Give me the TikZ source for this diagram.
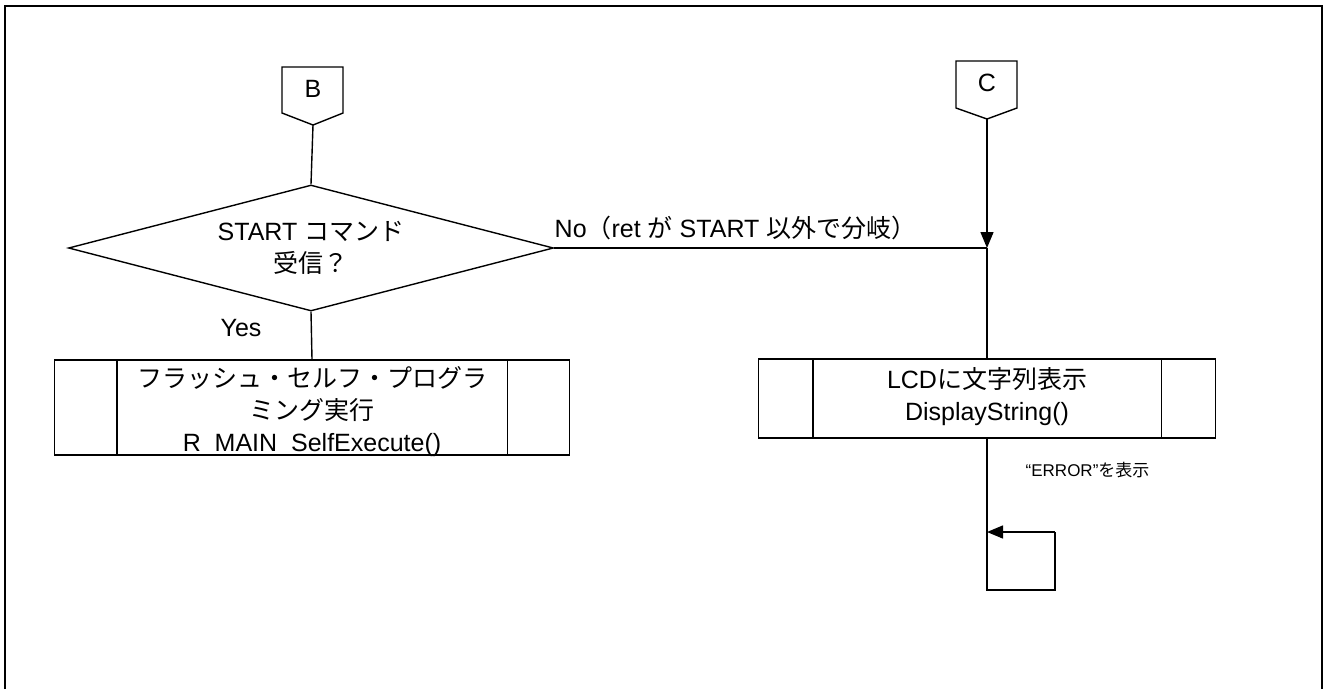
\documentclass[tikz,border=0pt]{standalone}
\usepackage{fontspec}
\setmainfont{Liberation Sans}
\newfontfamily\jp{Noto Sans CJK JP}
\newcommand{\J}[1]{{\jp #1}}
\usetikzlibrary{shapes.geometric,arrows.meta}
\begin{document}
\begin{tikzpicture}[x=1pt,y=-1pt,
  font=\fontsize{25}{32}\selectfont,
  line width=1.4pt,
  lbl/.style={inner sep=0pt},
  procbox/.style={draw, rectangle, inner sep=0pt},
  boxtext/.style={inner sep=0pt, align=center},
  decbox/.style={draw, diamond, inner sep=0pt, align=center, aspect=3.85, minimum width=485pt, minimum height=126pt},
  conn/.style={draw, line join=miter},
  arr/.style={-{Triangle[length=16pt,width=13pt]}}]
\useasboundingbox (0,0) rectangle (1325,689);
\draw[line width=2.2pt] (5,689) -- (5,6) -- (1322,6) -- (1322,689);
% off-page connectors
\draw[conn] (282,67) -- (343,67) -- (343,113) -- (313,125) -- (282,113) -- cycle;
\node[lbl] (B) at (313,89) {B};
\coordinate (Bp) at (313,125);
\draw[conn] (956,61) -- (1017,61) -- (1017,108) -- (987,119) -- (956,108) -- cycle;
\node[lbl] (C) at (987,83) {C};
\coordinate (Cp) at (987,119);
% decision
\node[decbox] (dec) at (311,248) {START \J{コマンド}\\\J{受信？}};
% process boxes
\node[procbox, minimum width=515pt, minimum height=95pt] (lb) at (312,407.5) {};
\node[boxtext] (lbt) at (312,412)
  {\J{フラッシュ・セルフ・プログラ}\\\J{ミング実行}\\R\_MAIN\_SelfExecute()};
\draw (lb.north west) ++(63,0) -- ++(0,95);
\draw (lb.north east) ++(-63,0) -- ++(0,95);
\node[procbox, minimum width=457pt, minimum height=79pt] (rb) at (987,398.5) {};
\node[boxtext] (rbt) at (987,397) {LCD\J{に文字列表示}\\DisplayString()};
\draw (rb.north west) ++(55,0) -- ++(0,79);
\draw (rb.north east) ++(-55,0) -- ++(0,79);
% connectors
\coordinate (J) at (987,248);
\draw (Bp) -- (dec.north);
\draw (dec.south) -- (lb.north);
\draw (dec.east) -- (J);
\draw[arr] (Cp) -- (J);
\draw (J) -- (rb.north);
\coordinate (L1) at (987,590);
\coordinate (L2) at (1055,590);
\coordinate (L3) at (1055,532);
\coordinate (L4) at (987,532);
\draw (rb.south) -- (L1) -- (L2) -- (L3);
\draw[arr] (L3) -- (L4);
% labels
\node[lbl] (yes) at (241,328) {Yes};
\node[lbl, anchor=west] (nolbl) at (554,228) {No\J{（}ret \J{が} START \J{以外で分岐）}};
\node[lbl, anchor=west, font=\fontsize{17}{20}\selectfont] (err) at (1025,470) {“ERROR”\J{を表示}};
\end{tikzpicture}
\end{document}
